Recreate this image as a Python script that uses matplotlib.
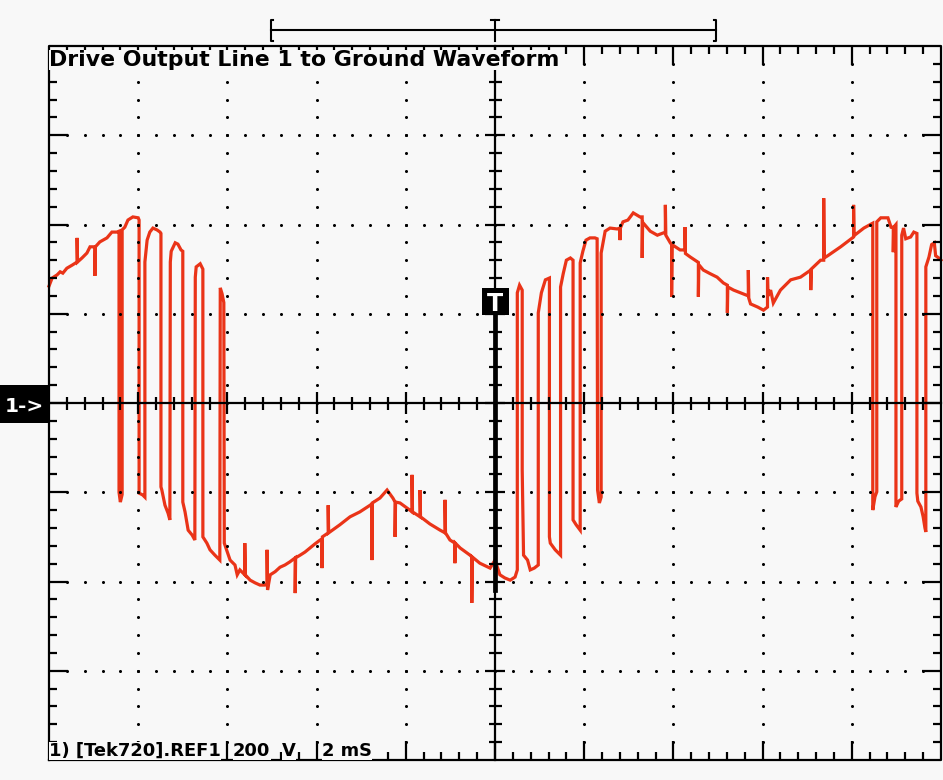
import matplotlib
matplotlib.use("Agg")
import matplotlib.pyplot as plt
from matplotlib.patches import Rectangle

# ---------------- data read from the scope screen ----------------
# time in ms (2 ms/div, 10 div), voltage in V (200 V/div, 8 div)
time_ms = [
    0.00, 0.07, 0.18, 0.25, 0.31, 0.40, 0.52, 0.63, 0.63, 0.64, 0.74, 0.85, 0.92, 1.03, 1.03, 1.04,
    1.14, 1.30, 1.41, 1.52, 1.57, 1.57, 1.60, 1.64, 1.64, 1.70, 1.77, 1.88, 2.00, 2.02, 2.02, 2.10,
    2.15, 2.15, 2.20, 2.26, 2.33, 2.42, 2.49, 2.51, 2.51, 2.53, 2.60, 2.67, 2.71, 2.72, 2.74, 2.83,
    2.89, 2.96, 3.00, 3.00, 3.05, 3.12, 3.21, 3.27, 3.28, 3.30, 3.39, 3.45, 3.45, 3.54, 3.61, 3.72,
    3.83, 3.84, 3.88, 3.92, 3.93, 4.06, 4.17, 4.22, 4.28, 4.39, 4.39, 4.40, 4.51, 4.62, 4.73, 4.84,
    4.89, 4.89, 4.90, 4.96, 5.07, 5.18, 5.29, 5.40, 5.52, 5.52, 5.53, 5.63, 5.74, 5.85, 5.96, 6.08,
    6.12, 6.12, 6.13, 6.26, 6.26, 6.27, 6.52, 6.75, 6.97, 7.20, 7.24, 7.24, 7.25, 7.42, 7.58, 7.71,
    7.76, 7.76, 7.77, 7.87, 8.09, 8.14, 8.14, 8.15, 8.32, 8.32, 8.33, 8.54, 8.77, 8.88, 8.88, 8.89,
    8.99, 9.10, 9.10, 9.11, 9.22, 9.44, 9.48, 9.48, 9.49, 9.66, 9.89, 10.00, 10.11, 10.22, 10.34, 10.45,
    10.50, 10.50, 10.55, 10.61, 10.61, 10.64, 10.73, 10.79, 10.88, 10.97, 10.97, 11.04, 11.13, 11.22, 11.22, 11.24,
    11.35, 11.47, 11.47, 11.53, 11.60, 11.69, 11.75, 11.75, 11.82, 11.91, 11.91, 11.97, 12.04, 12.13, 12.24, 12.29,
    12.30, 12.34, 12.38, 12.38, 12.47, 12.58, 12.74, 12.80, 12.80, 12.81, 12.87, 12.98, 13.10, 13.25, 13.30, 13.30,
    13.31, 13.48, 13.64, 13.77, 13.82, 13.82, 13.83, 13.93, 13.96, 13.96, 13.97, 14.15, 14.26, 14.26, 14.27, 14.38,
    14.56, 14.56, 14.57, 14.67, 14.82, 14.98, 15.12, 15.21, 15.21, 15.22, 15.35, 15.50, 15.68, 15.68, 15.69, 15.73,
    15.89, 16.02, 16.11, 16.11, 16.12, 16.18, 16.24, 16.40, 16.63, 16.85, 17.08, 17.08, 17.09, 17.30, 17.37, 17.37,
    17.38, 17.46, 17.75, 18.04, 18.04, 18.05, 18.27, 18.47, 18.47, 18.52, 18.56, 18.56, 18.65, 18.81, 18.88, 18.93,
    18.93, 18.94, 18.99, 18.99, 19.05, 19.12, 19.12, 19.16, 19.21, 19.32, 19.39, 19.46, 19.46, 19.48, 19.55, 19.60,
    19.64, 19.66, 19.66, 19.73, 19.79, 19.85, 19.88, 19.95, 20.00,
]
volts = [
    262, 280, 287, 294, 291, 302, 309, 316, 370, 316, 325, 336, 350, 350, 285, 350,
    361, 370, 383, 383, 385, -200, -222, -205, 388, 394, 410, 417, 415, 410, -202, -206,
    -211, 316, 365, 383, 392, 388, 383, 380, -188, -195, -229, -247, -262, 316, 340, 359,
    356, 343, 340, -222, -244, -285, -296, -307, 282, 305, 312, 300, -300, -314, -329, -341,
    -352, 258, 245, 225, -314, -352, -363, -385, -374, -385, -314, -385, -397, -403, -408, -408,
    -405, -329, -419, -385, -378, -368, -363, -356, -347, -426, -347, -341, -334, -325, -316, -307,
    -305, -370, -300, -291, -229, -291, -273, -255, -244, -229, -226, -352, -224, -213, -195, -213,
    -222, -300, -222, -224, -240, -244, -161, -244, -255, -195, -255, -271, -285, -291, -217, -291,
    -307, -314, -359, -314, -325, -341, -345, -448, -345, -359, -370, -352, -385, -392, -397, -390,
    -374, 247, 264, 253, -150, -341, -352, -374, -370, -363, 202, 247, 276, 280, -300, -314,
    -329, -341, 260, 290, 320, 325, 320, -262, -273, -285, 314, 340, 365, 370, 370, 368,
    -195, -224, -211, 336, 385, 392, 390, 392, 365, 392, 406, 410, 426, 417, 417, 325,
    405, 385, 376, 381, 381, 444, 376, 359, 355, 238, 355, 343, 343, 394, 335, 327,
    315, 238, 310, 298, 290, 282, 269, 264, 202, 260, 253, 247, 240, 298, 235, 222,
    215, 208, 215, 282, 240, 253, 224, 253, 276, 282, 298, 253, 300, 320, 320, 459,
    325, 330, 350, 372, 444, 375, 392, 403, -240, -210, -199, 406, 415, 415, 394, 394,
    338, 394, 400, -233, -220, -215, 376, 392, 368, 372, 383, 380, -202, -220, -233, -255,
    -280, -289, 305, 327, 355, 359, 330, 325, 320,
]

title = "Drive Output Line 1 to Ground Waveform"
footer_parts = ["1) [Tek720].REF1", "200", "V", "2 mS"]
channel_label = "1->"
trigger_label = "T"

ms_per_div = 2.0
volts_per_div = 200.0
n_xdiv = 10
n_ydiv = 8

# ---------------- styling ----------------
BG = "#f8f8f8"
RED = "#ea3418"
INK = "black"

W, H = 943, 780
fig = plt.figure(figsize=(W / 100, H / 100), dpi=100)
fig.patch.set_facecolor(BG)
ax = fig.add_axes([0, 0, 1, 1])
ax.set_facecolor(BG)
ax.axis("off")

TMAX = ms_per_div * n_xdiv
VMAX = volts_per_div * n_ydiv / 2
px_t = TMAX / 892.0        # ms per pixel
px_v = 2 * VMAX / 714.0    # V per pixel
ax.set_xlim(-49 * px_t, TMAX + 2 * px_t)
ax.set_ylim(-VMAX - 20 * px_v, VMAX + 46 * px_v)

# trace
ax.plot(time_ms, volts, color=RED, lw=2.3, zorder=2, solid_joinstyle="miter")

# dotted graticule
dot_t, dot_v = [], []
for i in range(1, n_xdiv):
    t = i * ms_per_div
    if i == n_xdiv // 2:
        continue
    for j in range(1, 5 * n_ydiv):
        dot_t.append(t)
        dot_v.append(-VMAX + j * volts_per_div / 5)
for j in range(1, n_ydiv):
    v = -VMAX + j * volts_per_div
    if j == n_ydiv // 2:
        continue
    for i in range(1, 5 * n_xdiv):
        dot_t.append(i * ms_per_div / 5)
        dot_v.append(v)
ax.plot(dot_t, dot_v, "o", color=INK, ms=2.2, mew=0, zorder=3)

LW = 1.6
# frame
ax.plot([0, TMAX, TMAX, 0, 0], [-VMAX, -VMAX, VMAX, VMAX, -VMAX], color=INK, lw=LW,
        zorder=4, solid_capstyle="projecting")

segs = []
for i in range(1, 5 * n_xdiv):
    t = i * ms_per_div / 5
    L = 19 if i % 5 == 0 else 8
    segs.append(([t, t], [VMAX, VMAX - L * px_v]))
    segs.append(([t, t], [-VMAX, -VMAX + L * px_v]))
    c = 11 if i % 5 == 0 else 6.5
    segs.append(([t, t], [-c * px_v, c * px_v]))
for j in range(1, 5 * n_ydiv):
    v = -VMAX + j * volts_per_div / 5
    L = 19 if j % 5 == 0 else 8
    segs.append(([0, L * px_t], [v, v]))
    segs.append(([TMAX, TMAX - L * px_t], [v, v]))
    c = 10 if j % 5 == 0 else 6.5
    segs.append(([TMAX / 2 - c * px_t, TMAX / 2 + c * px_t], [v, v]))
for xs, ys in segs:
    ax.plot(xs, ys, color=INK, lw=LW, zorder=4, solid_capstyle="butt")

# center cross
ax.plot([0, TMAX], [0, 0], color=INK, lw=LW, zorder=4)
ax.plot([TMAX / 2, TMAX / 2], [-VMAX, VMAX], color=INK, lw=LW, zorder=4)
ax.plot([TMAX / 2, TMAX / 2], [(403 - 315) * px_v, (403 - 590) * px_v], color=INK, lw=3.4, zorder=4)

# trigger marker box
tb_w, tb_h = 27 * px_t, 27 * px_v
ax.add_patch(Rectangle((TMAX / 2 - tb_w / 2, (403 - 315) * px_v), tb_w, tb_h,
                       facecolor=INK, edgecolor="none", zorder=5))
ax.text(TMAX / 2, (403 - 315) * px_v + tb_h / 2, trigger_label, color="white",
        fontsize=17, fontweight="bold", ha="center", va="center_baseline", zorder=6,
        family="DejaVu Sans")

# channel marker
ax.add_patch(Rectangle((-49 * px_t, -20 * px_v), 49 * px_t, 38 * px_v,
                       facecolor=INK, edgecolor="none", zorder=5, clip_on=False))
ax.text(-25 * px_t, -1 * px_v, channel_label, color="white", fontsize=14.5, fontweight="bold",
        ha="center", va="center_baseline", zorder=6, family="DejaVu Sans")

# record-window bracket at top
yb = (403 - 30) * px_v
y1, y2 = (403 - 41) * px_v, (403 - 20) * px_v
tl, tr = 4.98, 14.96
ax.plot([tl, tr], [yb, yb], color=INK, lw=1.5, zorder=4, clip_on=False)
ax.plot([tl + 2 * px_t, tl, tl, tl + 2 * px_t], [y2, y2, y1, y1], color=INK, lw=1.5, zorder=4, clip_on=False)
ax.plot([tr - 2 * px_t, tr, tr, tr - 2 * px_t], [y2, y2, y1, y1], color=INK, lw=1.5, zorder=4, clip_on=False)
ax.plot([TMAX / 2, TMAX / 2], [y1, y2], color=INK, lw=1.5, zorder=4, clip_on=False)
ax.plot([TMAX / 2 - 4 * px_t, TMAX / 2 + 4 * px_t], [y2, y2], color=INK, lw=1.5, zorder=4, clip_on=False)

bbox = dict(facecolor=BG, edgecolor="none", pad=0.3)
txt = ax.text(0.0, (403 - 66) * px_v, title, fontsize=16, ha="left", va="baseline", color=INK,
              family="DejaVu Sans", fontweight="bold", zorder=7, bbox=bbox)
fig.canvas.draw()
txt.set_fontsize(16 * 510 / txt.get_window_extent().width)

foot_y = (403 - 756) * px_v
foot_x = [49, 233, 282, 322]
first = ax.text(0.0, foot_y, footer_parts[0], fontsize=14, ha="left", va="baseline",
                color=INK, family="DejaVu Sans", fontweight="bold", zorder=7, bbox=bbox)
fig.canvas.draw()
ffs = 14 * 172 / first.get_window_extent().width
first.set_fontsize(ffs)
for s, x in zip(footer_parts[1:], foot_x[1:]):
    ax.text((x - 49) * px_t, foot_y, s, fontsize=ffs, ha="left", va="baseline", color=INK,
            family="DejaVu Sans", fontweight="bold", zorder=7, bbox=bbox)

fig.savefig("out.png", dpi=100, facecolor=BG)
